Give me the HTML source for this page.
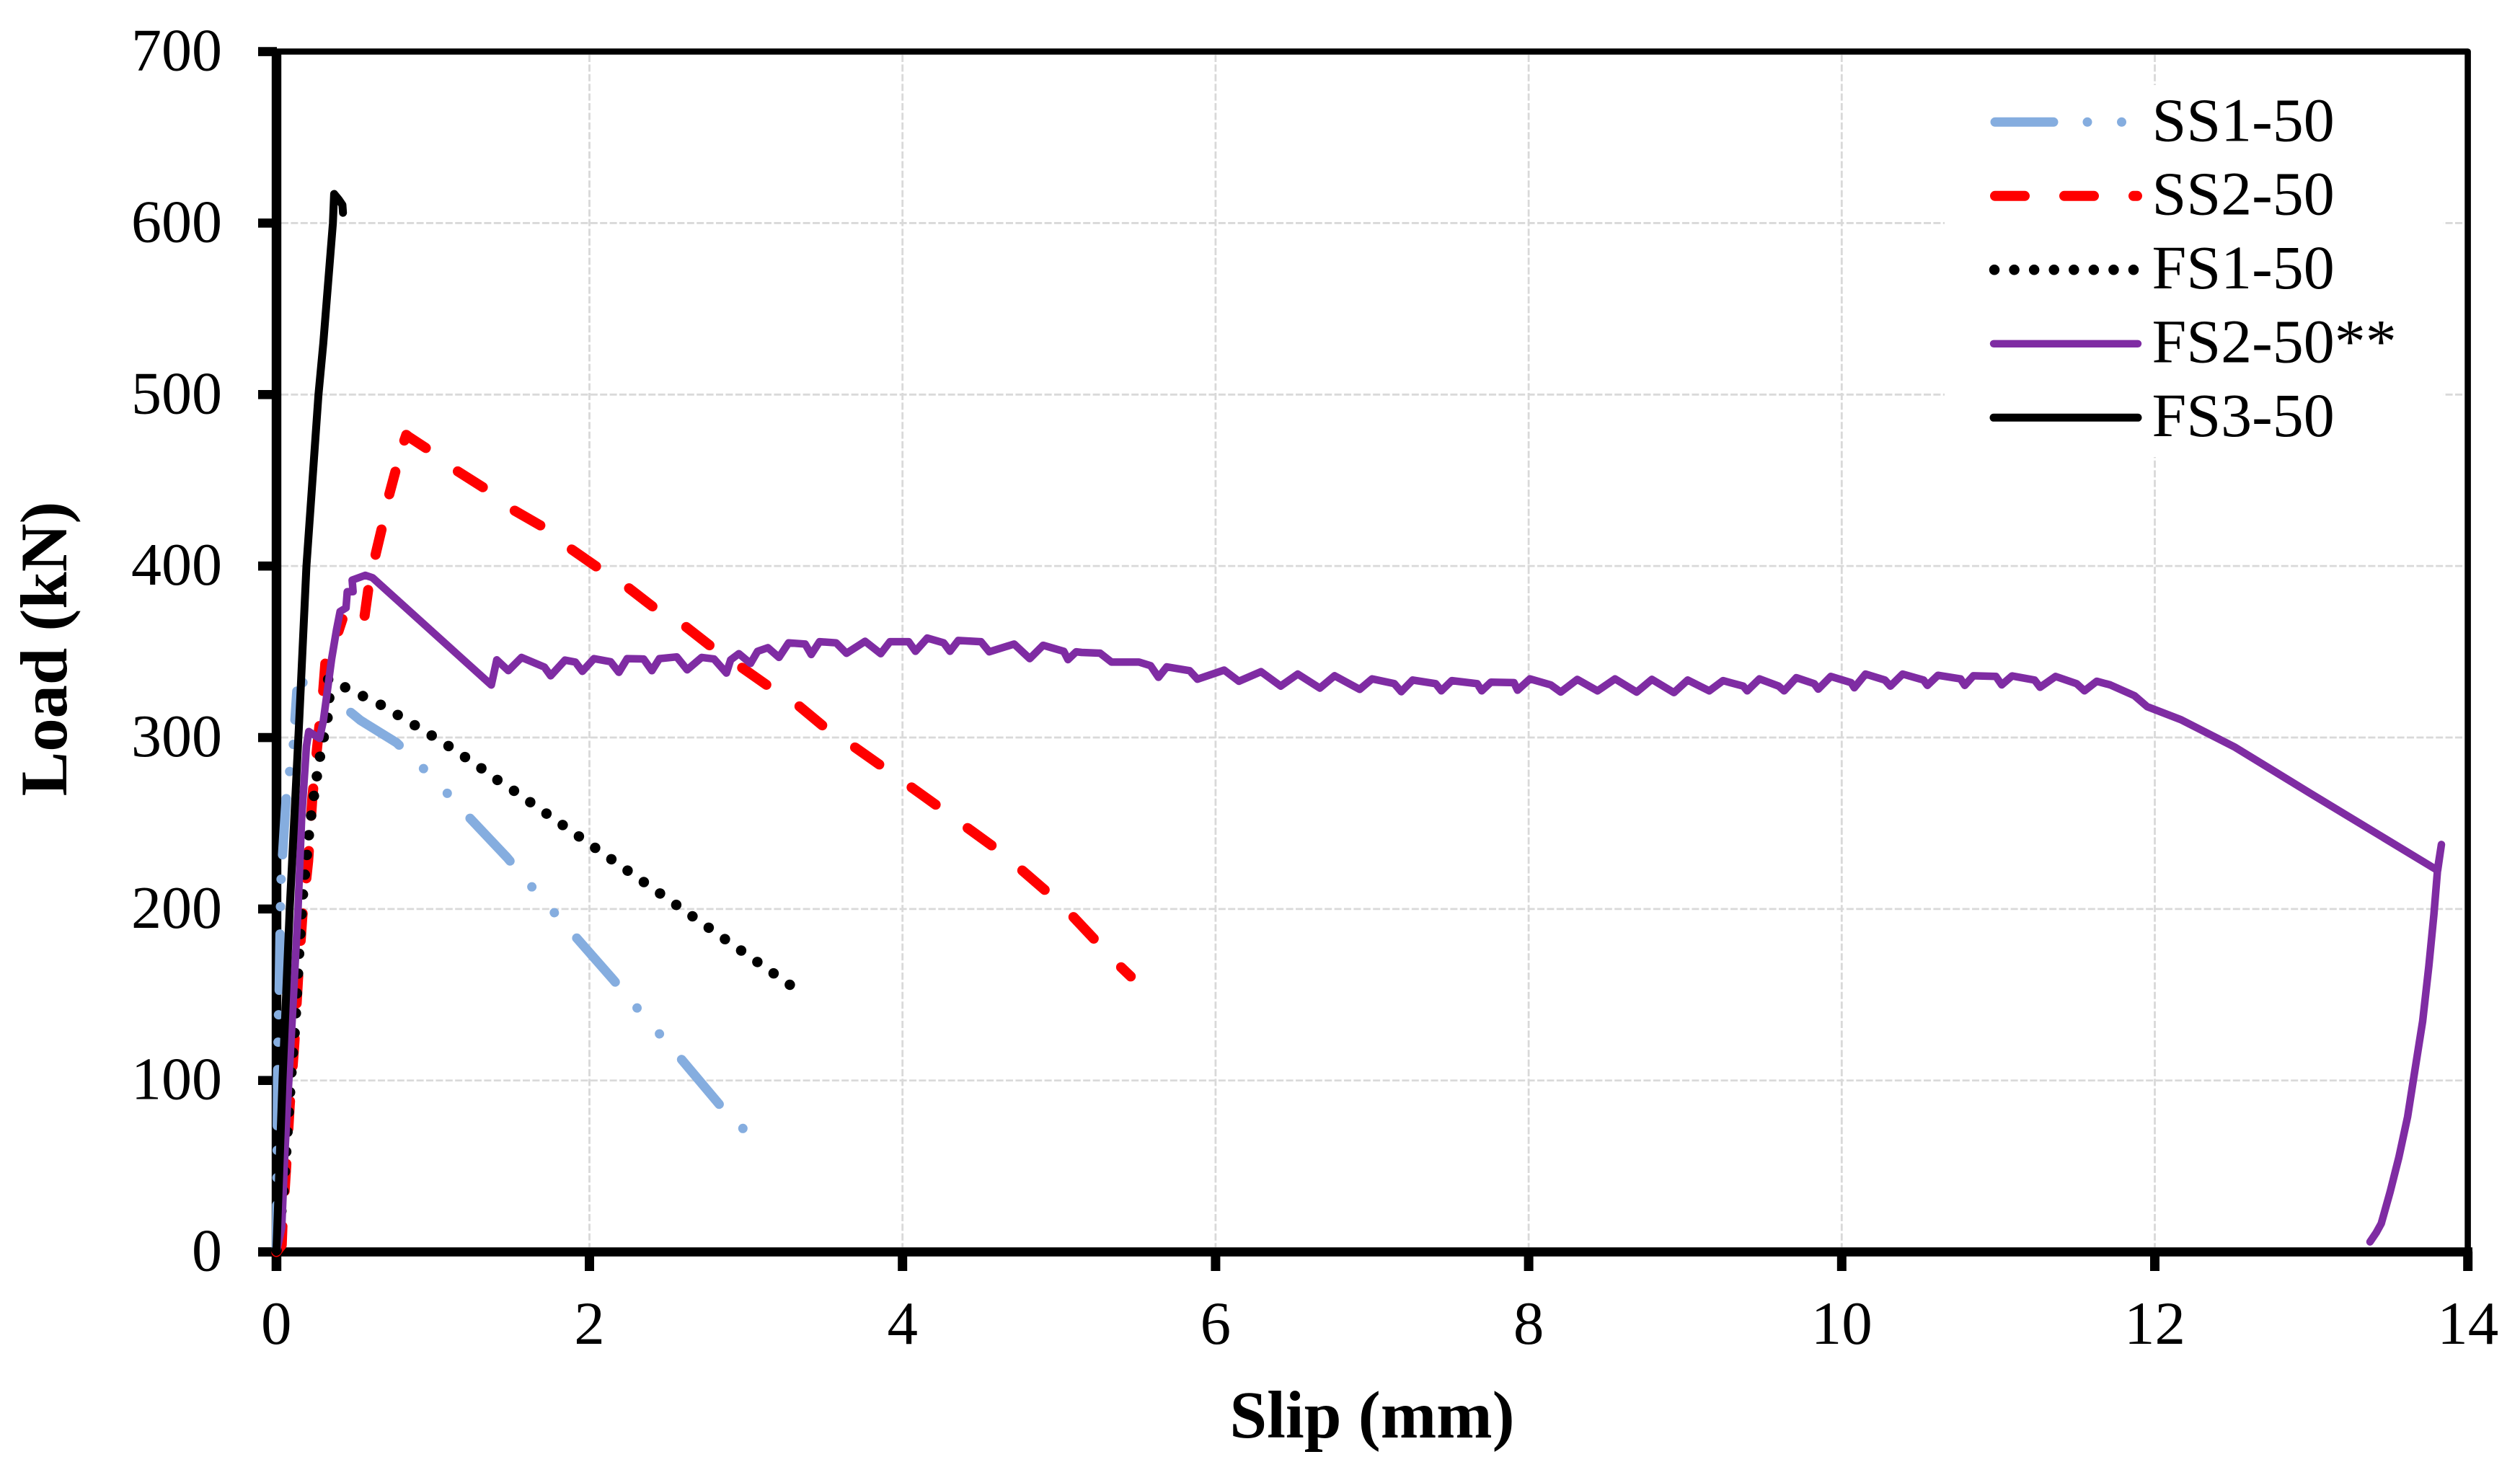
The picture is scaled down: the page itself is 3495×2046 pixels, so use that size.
<!DOCTYPE html>
<html lang="en">
<head>
<meta charset="utf-8">
<title>Load vs Slip</title>
<style>
html,body{margin:0;padding:0;background:#fff;width:3495px;height:2046px;overflow:hidden}
svg{display:block}
text{font-family:"Liberation Serif","Times New Roman",serif;fill:#000}
</style>
</head>
<body>
<svg id="chart" xmlns="http://www.w3.org/2000/svg" width="3495" height="2046" viewBox="0 0 3495 2046">
  <rect x="0" y="0" width="3495" height="2046" fill="#ffffff"/>
  <g id="grid"></g>
  <rect x="2697" y="118" width="691" height="516" fill="#ffffff"/>
  <g id="axes"></g>
  <g id="series"></g>
  <text x="1903" y="1994" font-size="93" font-weight="bold" text-anchor="middle">Slip (mm)</text>
  <text transform="translate(92,900) rotate(-90)" font-size="92.5" font-weight="bold" text-anchor="middle">Load (kN)</text>
  <g>
    <g>
      <path d="M2767 169.3H2946" fill="none" stroke="#85ADDF" stroke-width="13" stroke-linecap="round" stroke-dasharray="81 47 0.01 47.5 0.01 47.5"/>
      <text x="2984.5" y="195.5" font-size="86">SS1-50</text>
    </g>
    <g>
      <path d="M2767 271.8H2964" fill="none" stroke="#FF0000" stroke-width="14" stroke-linecap="round" stroke-dasharray="41 55"/>
      <text x="2984.5" y="297.7" font-size="86">SS2-50</text>
    </g>
    <g>
      <path d="M2766 374.3H2960" fill="none" stroke="#000000" stroke-width="14.5" stroke-linecap="round" stroke-dasharray="0.01 27.56"/>
      <text x="2984.5" y="400.2" font-size="86">FS1-50</text>
    </g>
    <g>
      <path d="M2765 476.8H2965" fill="none" stroke="#7F2CA3" stroke-width="10.4" stroke-linecap="round"/>
      <text x="2984.5" y="502.5" font-size="86">FS2-50**</text>
    </g>
    <g>
      <path d="M2765 579.3H2965" fill="none" stroke="#000000" stroke-width="11" stroke-linecap="round"/>
      <text x="2984.5" y="605" font-size="86">FS3-50</text>
    </g>
  </g>
</svg>
<script>
const xTicks = [0, 2, 4, 6, 8, 10, 12, 14];
const yTicks = [0, 100, 200, 300, 400, 500, 600, 700];

const ss1Slip = [0,.005,.008,.012,.018,.023,.026,.03,.039,.062,.077,.092,.108,.131,.2,.261,.37,.43,.537,.768,.917,1.067,1.205,1.474,1.612,1.755,1.9,2.15,2.288,2.43,2.572,2.83,2.98];
const ss1Load = [0,60,100,133,151,183,200,217,231,264,272,288,295,327,336,328,326,318,310,297,284,270,256,230,215,200,185,159,144,129,114,86,72];
const ss1RiseEnd = 13;

const ss2Slip = [0,.034,.039,.062,.085,.115,.138,.166,.203,.23,.261,.3,.315,.384,.422,.564,.591,.637,.676,.722,.76,.805,.83,.845,.952,1.128,1.336,1.497,1.7,1.858,2.07,2.228,2.426,2.6,2.796,2.955,3.153,3.325,3.51,3.697,3.854,4.06,4.215,4.419,4.573,4.767,4.913,5.093,5.228,5.397,5.458];
const ss2Load = [0,4,16,49,85.5,122,159,195.6,228,265,295,328,346,358.5,369,371,389,408,423,442,455,470,476.5,475.4,469,457,445,433.6,423,411.5,398,388.8,374.8,365.7,351.7,342,329.3,319.4,305.4,294.2,284.1,270.8,260.6,247,236.8,222.3,210.8,195.2,182.1,166,160.7];
const ss2LowerEnd = 14;
const ss2UpperEnd = 20;

const fs1Slip = [0,.031,.046,.069,.092,.12,.146,.169,.215,.249,.284,.307,.33,.338,.325,.4,.442,.556,.668,.778,.887,.995,1.1,1.205,1.31,1.416,1.52,2.346,3.28];
const fs1Load = [0,23,35,67,100,132,175,208,250,272,292,302,313,323,334,333,329,324,319,313,307,301,295,288.6,282,275,268.8,215.8,155.8];

const fs2Slip = [0,.034,.054,.077,.108,.138,.161,.192,.207,.276,.3,.353,.384,.407,.445,.453,.49,.484,.568,.614,1.373,1.408,1.482,1.566,1.712,1.752,1.844,1.91,1.955,2.029,2.135,2.188,2.241,2.346,2.399,2.447,2.558,2.624,2.717,2.796,2.875,2.902,2.955,3.029,3.074,3.14,3.211,3.272,3.378,3.417,3.47,3.576,3.642,3.761,3.861,3.92,4.039,4.083,4.158,4.263,4.303,4.356,4.501,4.554,4.713,4.813,4.898,5.03,5.057,5.109,5.144,5.262,5.335,5.511,5.585,5.635,5.688,5.834,5.884,6.055,6.149,6.29,6.416,6.525,6.666,6.76,6.921,7,7.142,7.186,7.259,7.406,7.442,7.509,7.671,7.7,7.759,7.906,7.929,8.008,8.141,8.205,8.311,8.44,8.552,8.69,8.787,8.928,9.016,9.154,9.242,9.289,9.371,9.396,9.474,9.597,9.632,9.71,9.824,9.85,9.93,10.06,10.08,10.152,10.276,10.311,10.389,10.523,10.547,10.615,10.759,10.786,10.841,10.985,11.022,11.088,11.232,11.267,11.366,11.5,11.551,11.629,11.715,11.87,11.951,12.167,12.513,12.991,13.807,13.831,13.807,13.783,13.751,13.711,13.663,13.615,13.559,13.503,13.447,13.415,13.375];
const fs2Load = [0,14,57,95.6,146.6,199.6,252.6,295,303.5,299.5,309.6,345.7,362.8,373.5,375.6,385,385,391.8,394.6,393.2,330.6,345.3,339,346.7,341.1,336,345.1,344,338.6,346,344.2,338,346,345.8,339,346,347,339.5,346.7,345.8,337.6,345.3,348.9,343.2,350.3,352.4,346.7,355.2,354.5,348.4,355.9,355.2,349.1,356.1,348.9,355.9,355.9,350.3,358,355.2,350.3,356.6,355.9,350,354.5,346,353.8,350.3,345.4,350,349.6,349.2,344,344,341.9,335.1,341.2,339,334,339.3,332.8,338.4,330,337,328.8,336,328.1,334.2,331.4,326.7,333.5,331.4,327.2,333.2,331.4,327.2,332.3,332,327.6,334.2,330.7,326.5,333.9,327.2,334.2,326.5,333.9,326.2,333.5,327.2,333.2,332,330,327.2,334.2,330,327.2,334.9,331.4,328.2,335.6,332,329,337,333.5,330,337,333.5,330.4,336.3,334.2,330.4,336,335.6,330.7,335.9,333.5,329.3,335.6,331.4,327.2,332.8,330.7,324.4,318,310.4,294.3,267.6,222.5,237.6,223.6,196.8,166.8,134.6,106.7,78.8,55.2,34.9,16.6,11.3,5.9];

const fs3Slip = [0,.02,.039,.085,.146,.192,.269,.3,.361,.369,.399,.422,.4255];
const fs3Load = [0,50,100,200,310,400,500,530,600,617,613.7,610.6,606];

const NS = 'http://www.w3.org/2000/svg';
const X0 = 383.3, XPX = 217.1, Y0 = 1736.6, YPX = 2.3786;
function xScale(v){ return X0 + v * XPX; }
function yScale(v){ return Y0 - v * YPX; }
function make(tag, parent, attrs){
  const el = document.createElementNS(NS, tag);
  for (const k in attrs) el.setAttribute(k, attrs[k]);
  parent.appendChild(el);
  return el;
}
function pathFrom(xs, ys, from, to, reverse){
  let pts = [];
  for (let i = from; i <= to; i++) pts.push(xScale(xs[i]).toFixed(1) + ' ' + yScale(ys[i]).toFixed(1));
  if (reverse) pts = pts.reverse();
  return 'M' + pts.join('L');
}

const gridG = document.getElementById('grid');
const axesG = document.getElementById('axes');
const seriesG = document.getElementById('series');

xTicks.forEach(function(t){
  if (t > 0 && t < 14) {
    const g = make('line', gridG, {x1:xScale(t), x2:xScale(t), y1:76, y2:1730, stroke:'#D9D9D9', 'stroke-width':2.8, 'stroke-dasharray':'10 3.4'});
    
    
  }
  const tick = make('line', axesG, {x1:xScale(t), x2:xScale(t), y1:1736, y2:1763, stroke:'#000', 'stroke-width':13});
  
  
  const lab = make('text', axesG, {x:xScale(t), y:1864, 'font-size':85, 'text-anchor':'middle'});
  
  
  lab.textContent = t;
});
yTicks.forEach(function(t){
  if (t > 0 && t < 700) {
    const g = make('line', gridG, {x1:390, x2:3418, y1:yScale(t), y2:yScale(t), stroke:'#D9D9D9', 'stroke-width':2.8, 'stroke-dasharray':'10 3.4'});
    
    
  }
  const tick = make('line', axesG, {x1:358, x2:384, y1:yScale(t), y2:yScale(t), stroke:'#000', 'stroke-width':12.6});
  
  
  const lab = make('text', axesG, {x:308, y:yScale(t) + 26, 'font-size':84, 'text-anchor':'end'});
  
  
  lab.textContent = t;
});

const frameTop = make('path', axesG, {d:'M384 71.5H3422.6V1736', fill:'none', stroke:'#000', 'stroke-width':8.6, 'stroke-linejoin':'round'});


const yAxisLine = make('line', axesG, {x1:383.5, x2:383.5, y1:72, y2:1763, stroke:'#000', 'stroke-width':13.4});


const xAxisLine = make('line', axesG, {x1:358, x2:3429, y1:1736.6, y2:1736.6, stroke:'#000', 'stroke-width':12.6});



const ss1Rise = make('path', seriesG, {d:pathFrom(ss1Slip, ss1Load, 0, ss1RiseEnd, false), fill:'none', stroke:'#85ADDF', 'stroke-width':13, 'stroke-linecap':'round', 'stroke-linejoin':'round', 'stroke-dasharray':'78 38 0.01 38 0.01 34', 'stroke-dashoffset':'13'});


const ss1Fall = make('path', seriesG, {d:pathFrom(ss1Slip, ss1Load, ss1RiseEnd, ss1Slip.length - 1, true), fill:'none', stroke:'#85ADDF', 'stroke-width':13, 'stroke-linecap':'round', 'stroke-linejoin':'round', 'stroke-dasharray':'0.01 47 81 47 0.01 47.5'});



const ss2Lower = make('path', seriesG, {d:pathFrom(ss2Slip, ss2Load, 0, ss2LowerEnd, false), fill:'none', stroke:'#FF0000', 'stroke-width':14, 'stroke-linecap':'round', 'stroke-linejoin':'round', 'stroke-dasharray':'38 49'});


const ss2Upper = make('path', seriesG, {d:pathFrom(ss2Slip, ss2Load, ss2LowerEnd + 1, ss2UpperEnd, false), fill:'none', stroke:'#FF0000', 'stroke-width':14, 'stroke-linecap':'round', 'stroke-linejoin':'round', 'stroke-dasharray':'36 50'});


const ss2Fall = make('path', seriesG, {d:pathFrom(ss2Slip, ss2Load, ss2UpperEnd + 1, ss2Slip.length - 1, true), fill:'none', stroke:'#FF0000', 'stroke-width':14, 'stroke-linecap':'round', 'stroke-linejoin':'round', 'stroke-dasharray':'41 55', 'stroke-dashoffset':'22.6'});



const fs1Path = make('path', seriesG, {d:pathFrom(fs1Slip, fs1Load, 0, fs1Slip.length - 1, true), fill:'none', stroke:'#000000', 'stroke-width':14.5, 'stroke-linecap':'round', 'stroke-linejoin':'round', 'stroke-dasharray':'0.01 27.5'});


const fs2Path = make('path', seriesG, {d:pathFrom(fs2Slip, fs2Load, 0, fs2Slip.length - 1, false), fill:'none', stroke:'#7F2CA3', 'stroke-width':10.5, 'stroke-linecap':'round', 'stroke-linejoin':'round'});


const fs3Path = make('path', seriesG, {d:pathFrom(fs3Slip, fs3Load, 0, fs3Slip.length - 1, false), fill:'none', stroke:'#000000', 'stroke-width':11, 'stroke-linecap':'round', 'stroke-linejoin':'round'});


</script>
</body>
</html>
